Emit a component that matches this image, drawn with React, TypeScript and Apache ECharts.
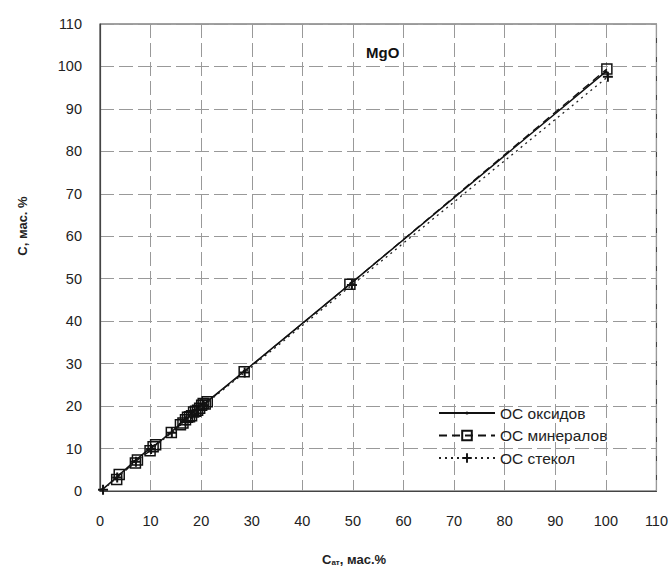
import React, { useEffect, useRef } from "react";
import * as echarts from "echarts";

const xTicks = [0, 10, 20, 30, 40, 50, 60, 70, 80, 90, 100, 110];
const yTicks = [0, 10, 20, 30, 40, 50, 60, 70, 80, 90, 100, 110];

const seriesNames = ["ОС оксидов", "ОС минералов", "ОС стекол"];

const oxidesX = [0.5, 3.0, 3.6, 6.8, 9.6, 10.2, 10.8, 13.8, 15.8, 16.5, 17.2, 17.8, 18.4, 19.0, 19.5, 20.1, 20.8, 21.4, 28.5, 49.6, 100.0];
const oxidesY = [0.4, 2.9, 3.6, 7.0, 9.8, 10.3, 10.7, 13.6, 15.7, 16.6, 17.1, 17.9, 18.6, 19.2, 19.4, 20.3, 20.7, 21.3, 28.2, 48.9, 98.8];

const mineralsX = [3.3, 3.8, 7.0, 7.4, 9.9, 10.5, 11.0, 14.1, 15.9, 16.4, 16.9, 17.3, 17.7, 18.1, 18.5, 18.9, 19.3, 19.7, 20.1, 20.4, 20.8, 21.2, 28.5, 49.4, 100.2];
const mineralsY = [2.7, 3.9, 6.6, 7.3, 9.5, 10.4, 10.9, 13.8, 15.6, 16.0, 16.8, 17.4, 17.5, 17.7, 18.6, 18.8, 19.0, 19.5, 20.2, 20.6, 20.5, 21.0, 28.1, 48.7, 99.4];

const glassesX = [0.6, 3.4, 7.1, 10.1, 14.2, 16.9, 18.2, 19.3, 20.5, 28.6, 49.8, 100.4];
const glassesY = [0.3, 3.2, 6.9, 9.9, 13.7, 16.4, 18.0, 19.1, 20.2, 27.9, 48.5, 97.6];

const zip = (xs: number[], ys: number[]) => xs.map((x, i) => [x, ys[i]]);

const plusPath = "path://M4,0h2v4h4v2h-4v4h-2v-4h-4v-2h4z";
// small dot centred in a 10x10 box (degenerate corner segments fix the bounds)
const dotPath = "path://M0,0L0,0M10,10L10,10M3.4,5a1.6,1.6 0 1,0 3.2,0a1.6,1.6 0 1,0 -3.2,0z";

export default function App() {
  const ref = useRef<HTMLDivElement>(null);
  useEffect(() => {
    if (!ref.current) return;
    const chart = echarts.init(ref.current, undefined, { renderer: "svg" });
    const font = "'Liberation Sans', Arial, sans-serif";
    chart.setOption({
      animation: false,
      backgroundColor: "#fff",
      grid: {
        left: 100,
        right: 10,
        top: 24,
        bottom: 85,
        show: true,
        borderColor: "#444",
        borderWidth: 1.2,
      },
      xAxis: {
        type: "value",
        min: xTicks[0],
        max: xTicks[xTicks.length - 1],
        interval: 10,
        axisLine: { show: true, lineStyle: { color: "#444", width: 1.2 } },
        axisTick: { show: false },
        axisLabel: { fontFamily: font, fontSize: 14.5, color: "#222", margin: 22 },
        splitLine: { show: true, lineStyle: { color: "#999", type: [14, 5], width: 1 } },
      },
      yAxis: {
        type: "value",
        min: yTicks[0],
        max: yTicks[yTicks.length - 1],
        interval: 10,
        axisLine: { show: true, lineStyle: { color: "#444", width: 1.2 } },
        axisTick: { show: false },
        axisLabel: { fontFamily: font, fontSize: 14.5, color: "#222", margin: 18 },
        splitLine: { show: true, lineStyle: { color: "#999", type: [14, 5], width: 1 } },
      },
      legend: {
        orient: "vertical",
        left: 433,
        top: 400,
        itemWidth: 56,
        itemHeight: 12,
        itemGap: 6.5,
        textStyle: { fontFamily: font, fontSize: 15.5, color: "#222" },
        data: seriesNames,
      },
      graphic: [
        {
          type: "text",
          left: 366,
          top: 45,
          style: { text: "MgO", font: `bold 15px ${font}`, fill: "#111" },
        },
        {
          type: "text",
          x: 22,
          y: 226,
          rotation: Math.PI / 2,
          style: {
            text: "C, мас. %",
            font: `bold 13px ${font}`,
            fill: "#222",
            align: "center",
            verticalAlign: "middle",
          },
        },
        {
          type: "text",
          left: 322,
          top: 553,
          style: {
            text: "{a|C}{b|ат}{a|, мас.%}",
            rich: {
              a: { fontFamily: font, fontSize: 13, fontWeight: "bold", fill: "#222" },
              b: { fontFamily: font, fontSize: 8, fontWeight: "bold", fill: "#222", verticalAlign: "bottom", padding: [6, 0, 0, 0] },
            },
          },
        },
      ],
      series: [
        {
          name: seriesNames[0],
          type: "line",
          data: zip(oxidesX, oxidesY),
          symbol: dotPath,
          symbolSize: 10,
          lineStyle: { color: "#111", width: 1.5, type: "solid" },
          itemStyle: { color: "#111" },
          z: 3,
        },
        {
          name: seriesNames[1],
          type: "line",
          data: zip(mineralsX, mineralsY),
          symbol: "rect",
          symbolSize: 10,
          lineStyle: { color: "#111", width: 1.3, type: [8, 5] },
          itemStyle: { color: "rgba(255,255,255,0)", borderColor: "#111", borderWidth: 1.5 },
          z: 2,
        },
        {
          name: seriesNames[2],
          type: "line",
          data: zip(glassesX, glassesY),
          symbol: plusPath,
          symbolSize: 10,
          lineStyle: { color: "#222", width: 1.3, type: [2, 4] },
          itemStyle: { color: "#111" },
          z: 4,
        },
      ],
    });
    return () => chart.dispose();
  }, []);
  return (
    <div
      ref={ref}
      style={{ position: "fixed", left: 0, top: 0, width: 671, height: 576 }}
    />
  );
}
